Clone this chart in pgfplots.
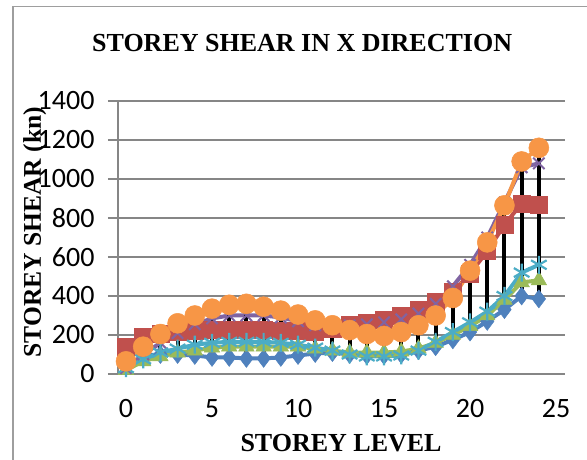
\documentclass[border=0pt]{standalone}
\usepackage{pgfplots}
\pgfplotsset{compat=1.18}
\usepackage{pgfplotstable}
\usepackage{fontspec}
\setmainfont{Liberation Serif}
\newfontfamily\tickfont{Carlito}
\definecolor{cblue}{HTML}{4F81BD}
\definecolor{cred}{HTML}{C0504D}
\definecolor{cgreen}{HTML}{9BBB59}
\definecolor{cpurple}{HTML}{8064A2}
\definecolor{ccyan}{HTML}{4BACC6}
\definecolor{corange}{HTML}{F79646}
\definecolor{cgrid}{HTML}{868686}
\pgfplotstableread{
x blue red green purple cyan orange
0 120 140 20 30 30 65
1 95 190 65 100 75 140
2 100 205 90 160 110 205
3 100 215 110 210 130 260
4 95 220 120 255 150 300
5 85 225 135 285 160 335
6 85 225 140 300 165 355
7 80 225 140 300 165 360
8 80 225 140 300 165 345
9 85 220 140 290 160 325
10 95 220 140 270 150 305
11 105 215 130 250 135 275
12 110 230 120 240 120 250
13 100 255 110 250 100 225
14 95 265 110 255 90 205
15 95 280 110 265 90 195
16 100 300 115 280 95 215
17 120 330 130 310 120 250
18 140 370 160 360 165 300
19 175 420 200 450 215 390
20 215 515 245 560 265 530
21 270 630 300 700 320 675
22 330 765 380 880 400 865
23 400 875 470 1060 520 1090
24 385 870 480 1080 560 1160
}\shear
\begin{document}
\begin{tikzpicture}[x=1pt,y=1pt]
\useasboundingbox (0,0) rectangle (587,460);
\draw[color=cgrid!80, line width=1.5pt] (13,-5) -- (13,453.5) -- (600,453.5);
\begin{axis}[
  at={(118pt,86pt)}, anchor=south west,
  width=447pt, height=273pt, scale only axis,
  xmin=-0.465, xmax=25.52, ymin=0, ymax=1400,
  xtick={0,5,...,25}, ytick={0,200,...,1400},
  axis lines*=left,
  axis line style={color=cgrid, line width=1.8pt},
  ymajorgrids, grid style={color=cgrid, line width=1.8pt},
  xtick style={draw=none},
  ytick style={color=cgrid, line width=1.8pt},
  tick align=outside, major tick length=10pt,
  /pgf/number format/assume math mode=true,
  /pgf/number format/1000 sep={},
  ticklabel style={font=\tickfont\fontsize{28}{28}\selectfont},
  xticklabel style={yshift=-12pt},
  yticklabel style={xshift=-10pt},
  xlabel={STOREY LEVEL},
  ylabel={STOREY SHEAR (kn)},
  xlabel style={at={(axis description cs:0.499,-0.253)}, anchor=center, font=\bfseries\fontsize{26}{26}\selectfont},
  ylabel style={at={(axis description cs:-0.186,0.52)}, anchor=center, rotate=0, font=\bfseries\fontsize{25.5}{25.5}\selectfont},
  title={STOREY SHEAR IN X DIRECTION},
  title style={at={(axis description cs:0.412,1.19)}, anchor=center, font=\bfseries\fontsize{26}{26}\selectfont},
  clip=false,
  every axis plot/.append style={line width=4pt},
]
\addplot[color=cblue, mark=diamond*, mark size=9pt, mark options={solid, line width=0.5pt, fill=cblue}] table[x=x, y=blue] {\shear};
\addplot[color=cred, mark=square*, mark size=8.5pt, mark options={solid, line width=0.5pt, fill=cred}] table[x=x, y=red] {\shear};
\addplot[color=cgreen, mark=triangle*, mark size=9pt, mark options={solid, line width=0.5pt, fill=cgreen}] table[x=x, y=green] {\shear};
\addplot[color=cpurple, mark=x, mark size=8pt, mark options={solid, line width=2pt}] table[x=x, y=purple] {\shear};
\addplot[color=ccyan, mark=asterisk, mark size=9pt, mark options={solid, line width=2.2pt}] table[x=x, y=cyan] {\shear};
\addplot[color=corange, mark=*, mark size=10pt, mark options={solid, line width=0.5pt, fill=corange}] table[x=x, y=orange] {\shear};
\addplot[black, line width=4pt, mark=none, unbounded coords=jump] coordinates {
(0,149) (0,29) (0,nan)
(1,186) (1,63) (1,nan)
(2,222) (2,97) (2,nan)
(3,273) (3,97) (3,nan)
(4,311) (4,97) (4,nan)
(5,345) (5,97) (5,nan)
(6,354) (6,97) (6,nan)
(7,359) (7,89) (7,nan)
(8,345) (8,97) (8,nan)
(9,324) (9,106) (9,nan)
(10,299) (10,114) (10,nan)
(11,273) (11,114) (11,nan)
(12,254) (12,126) (12,nan)
(13,259) (13,114) (13,nan)
(14,264) (14,80) (14,nan)
(15,276) (15,80) (15,nan)
(16,302) (16,85) (16,nan)
(17,327) (17,106) (17,nan)
(18,362) (18,140) (18,nan)
(19,439) (19,178) (19,nan)
(20,547) (20,234) (20,nan)
(21,695) (21,294) (21,nan)
(22,878) (22,362) (22,nan)
(23,1093) (23,371) (23,nan)
(24,1165) (24,396)
};
\end{axis}
\end{tikzpicture}
\end{document}
